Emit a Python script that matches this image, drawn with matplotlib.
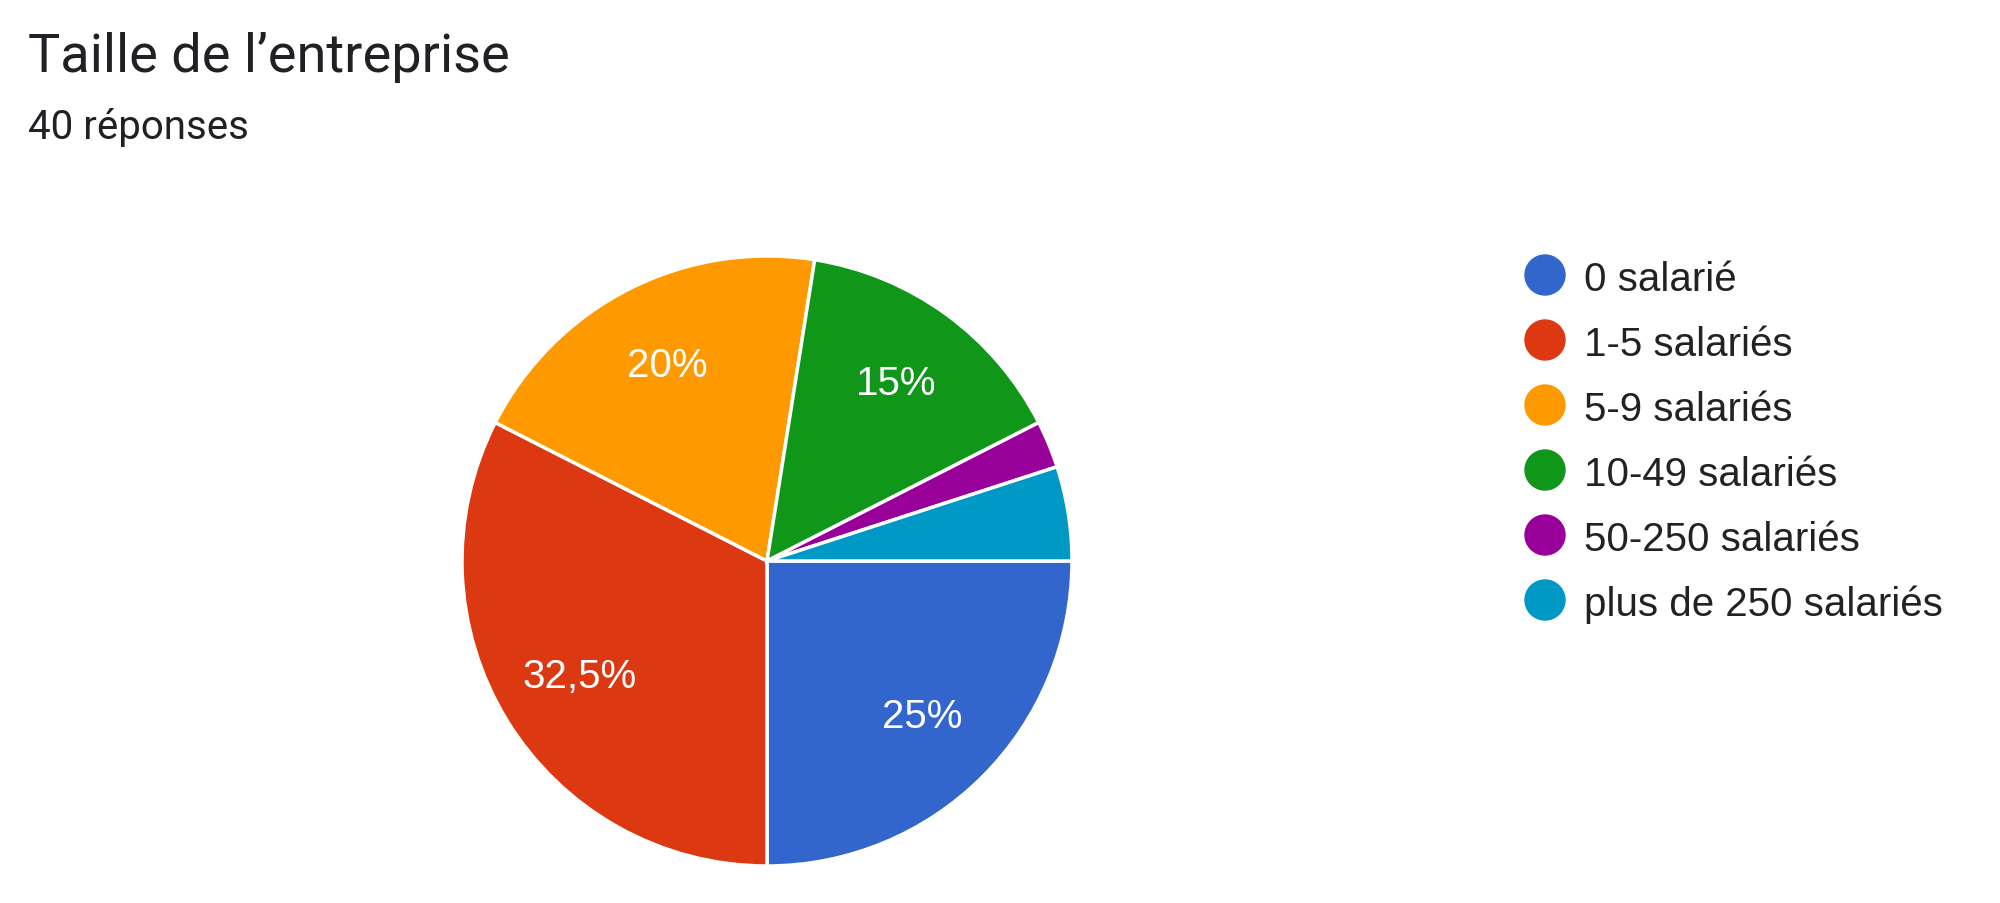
import matplotlib.pyplot as plt
from matplotlib.patches import Ellipse

# data: 40 responses
labels = ['0 salarié', '1-5 salariés', '5-9 salariés', '10-49 salariés',
          '50-250 salariés', 'plus de 250 salariés']
counts = [10, 13, 8, 6, 1, 2]
colors = ['#3366CC', '#DC3912', '#FF9900', '#109618', '#990099', '#0099C6']

W, H = 2000, 904
fig = plt.figure(figsize=(W / 100, H / 100), dpi=100)

# pie centre (767, 562) px, radius ~305 px
cx, cy, r = 767, 562, 305
ax = fig.add_axes([(cx - r) / W, (H - cy - r) / H, 2 * r / W, 2 * r / H])


def pct_label(p):
    if p < 10:
        return ''
    s = ('%.1f' % p).rstrip('0').rstrip('.')
    return s.replace('.', ',') + '%'


wedges, texts, autotexts = ax.pie(counts, colors=colors, startangle=0, counterclock=False,
                                  autopct=pct_label, pctdistance=0.72,
                                  wedgeprops=dict(edgecolor='white', linewidth=2.5),
                                  textprops=dict(color='white', fontsize=29,
                                                 family='Liberation Sans'))
ax.set_xlim(-1, 1)
ax.set_ylim(-1, 1)
ax.set_aspect('equal')
ax.axis('off')

# title
fig.text(28 / W, 1 - 72 / H, 'Taille de l\u2019entreprise', fontsize=39,
         family='Roboto', color='#202124', va='baseline')
fig.text(28 / W, 1 - 139 / H, '40 réponses', fontsize=29,
         family='Roboto', color='#202124', va='baseline')

# legend
y0, step = 276, 65
for i, (lab, col) in enumerate(zip(labels, colors)):
    yy = y0 + i * step
    fig.add_artist(Ellipse((1545 / W, 1 - yy / H), 40 / W, 40 / H,
                           transform=fig.transFigure, color=col))
    fig.text(1584 / W, 1 - (yy + 15) / H, lab, fontsize=29,
             family='Liberation Sans', color='#222222', va='baseline')

fig.savefig('out.png', dpi=100, facecolor='white')
